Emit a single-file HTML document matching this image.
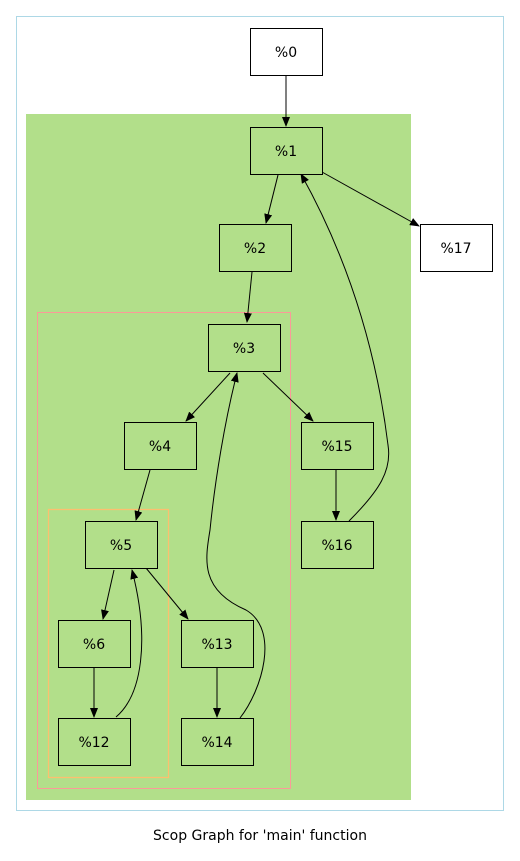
<!DOCTYPE html>
<html><head><style>body{margin:0;background:#fff}svg{display:block}</style></head><body>
<svg width="520" height="861" viewBox="0 0 520 861" xmlns="http://www.w3.org/2000/svg" font-family="DejaVu Sans, Liberation Sans, sans-serif" font-size="14">
<defs><marker id="a" markerWidth="10" markerHeight="8" refX="9" refY="4" orient="auto" markerUnits="userSpaceOnUse"><path d="M0,0L10,4L0,8z" fill="#000"/></marker></defs>
<rect x="16.5" y="16.5" width="487" height="794" fill="#fff" stroke="#add8e6"/>
<rect x="26" y="114" width="385" height="686" fill="#b2df8a"/>
<rect x="37.5" y="312.5" width="253" height="476" fill="none" stroke="#fb9a99"/>
<path d="M48.5,509.5H168.5V777.5H48.5Z" fill="none" stroke="#fdbf6f" stroke-width="1.2"/>
<g fill="none" stroke="#000" stroke-width="1">
<path d="M286,76L286,126" marker-end="url(#a)"/>
<path d="M278,175L266,223" marker-end="url(#a)"/>
<path d="M322,172L419,226" marker-end="url(#a)"/>
<path d="M252,272L247,322" marker-end="url(#a)"/>
<path d="M230,373L186,421" marker-end="url(#a)"/>
<path d="M263,373L313,421" marker-end="url(#a)"/>
<path d="M336,470L336,520" marker-end="url(#a)"/>
<path d="M349,521C380,490 392,470 388,445C380,380 360,280 301,174" marker-end="url(#a)"/>
<path d="M150,470L136,520" marker-end="url(#a)"/>
<path d="M114,570L103,619" marker-end="url(#a)"/>
<path d="M146,568L188,619" marker-end="url(#a)"/>
<path d="M94,668L94,717" marker-end="url(#a)"/>
<path d="M116,717C142,695 150,640 132,570" marker-end="url(#a)"/>
<path d="M217,668L217,717" marker-end="url(#a)"/>
<path d="M240,718C262,690 280,630 246,610C200,590 205,560 210,530C215,480 225,420 237,373" marker-end="url(#a)"/>
</g>
<g stroke="#000" fill="#b2df8a">
<rect x="250.5" y="28.5" width="72" height="47" fill="#fff"/>
<rect x="420.5" y="224.5" width="72" height="47" fill="#fff"/>
<rect x="250.5" y="127.5" width="72" height="47"/>
<rect x="219.5" y="224.5" width="72" height="47"/>
<rect x="208.5" y="324.5" width="72" height="47"/>
<rect x="124.5" y="422.5" width="72" height="47"/>
<rect x="301.5" y="422.5" width="72" height="47"/>
<rect x="301.5" y="521.5" width="72" height="47"/>
<rect x="85.5" y="521.5" width="72" height="47"/>
<rect x="58.5" y="620.5" width="72" height="47"/>
<rect x="181.5" y="620.5" width="72" height="47"/>
<rect x="58.5" y="718.5" width="72" height="47"/>
<rect x="181.5" y="718.5" width="72" height="47"/>
</g>
<g text-anchor="middle" fill="#000">
<text x="286" y="57">%0</text>
<text x="456" y="253">%17</text>
<text x="286" y="156">%1</text>
<text x="255" y="253">%2</text>
<text x="244" y="353">%3</text>
<text x="160" y="451">%4</text>
<text x="337" y="451">%15</text>
<text x="337" y="550">%16</text>
<text x="121" y="550">%5</text>
<text x="94" y="649">%6</text>
<text x="217" y="649">%13</text>
<text x="94" y="747">%12</text>
<text x="217" y="747">%14</text>
<text x="260" y="840">Scop Graph for 'main' function</text>
</g>
</svg>
</body></html>
